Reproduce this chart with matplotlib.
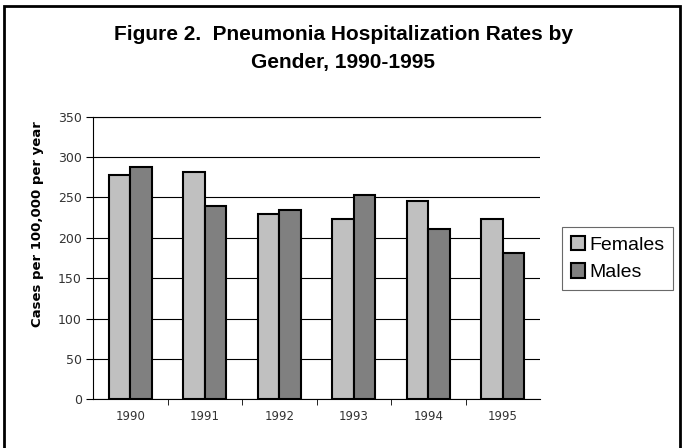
import numpy as np
import matplotlib
matplotlib.use("Agg")
import matplotlib.pyplot as plt
from matplotlib.patches import Rectangle

years = ["1990", "1991", "1992", "1993", "1994", "1995"]
females = [278, 281, 230, 223, 246, 223]
males = [288, 239, 235, 253, 211, 181]

W, H = 686, 448
fig = plt.figure(figsize=(W / 100, H / 100), dpi=100)

# outer frame (bottom edge runs off the image)
fig.patches.append(Rectangle((4 / W, -0.05), 676 / W, 1.05 - 6 / H,
                             transform=fig.transFigure, fill=False,
                             edgecolor='black', linewidth=2))

ax = fig.add_axes([93 / W, 1 - 399.3 / H, (540 - 93) / W, (399.3 - 116.7) / H])

x = np.arange(len(years))
bw = 0.29
ax.bar(x - bw / 2, females, bw, color='#c0c0c0', edgecolor='black', linewidth=1.5,
       label='Females', zorder=3)
ax.bar(x + bw / 2, males, bw, color='#808080', edgecolor='black', linewidth=1.5,
       label='Males', zorder=3)

ax.set_xlim(-0.5, len(years) - 0.5)
ax.set_ylim(0, 350)
ax.set_yticks(range(0, 351, 50))
ax.yaxis.grid(True, color='black', linewidth=0.8, zorder=0)
ax.set_axisbelow(True)

ax.set_xticks(x)
ax.set_xticklabels(years, fontsize=8.5, color='#333333')
ax.set_xticks(np.arange(0.5, len(years) - 0.5, 1), minor=True)
ax.tick_params(axis='x', which='major', length=0, pad=8)
ax.tick_params(axis='x', which='minor', length=4, direction='out')
ax.tick_params(axis='y', length=5, direction='out', labelsize=9, labelcolor='#333333', pad=3)

ax.spines['right'].set_visible(False)
for s in ['top', 'left', 'bottom']:
    ax.spines[s].set_linewidth(0.8)

ax.set_ylabel('Cases per 100,000 per year', fontsize=9.5, fontweight='heavy', labelpad=14)
ax.yaxis.set_label_coords(44 / W, 0.5, transform=fig.transFigure)

fig.text(0.5, 1 - 48.5 / H, 'Figure 2.  Pneumonia Hospitalization Rates by\nGender, 1990-1995',
         ha='center', va='center', fontsize=15, fontweight='bold',
         family='Liberation Sans', linespacing=1.65)

leg = ax.legend(loc='center left', bbox_to_anchor=(562 / W, 1 - 258.5 / H),
                bbox_transform=fig.transFigure, frameon=True, fancybox=False,
                prop={'family': 'Liberation Sans', 'size': 14},
                handlelength=0.75, handleheight=0.75, handletextpad=0.2,
                borderpad=0.45, labelspacing=0.5, borderaxespad=0)
leg.get_frame().set_edgecolor('#444444')
leg.get_frame().set_linewidth(0.8)

fig.savefig('out.png', dpi=100)
